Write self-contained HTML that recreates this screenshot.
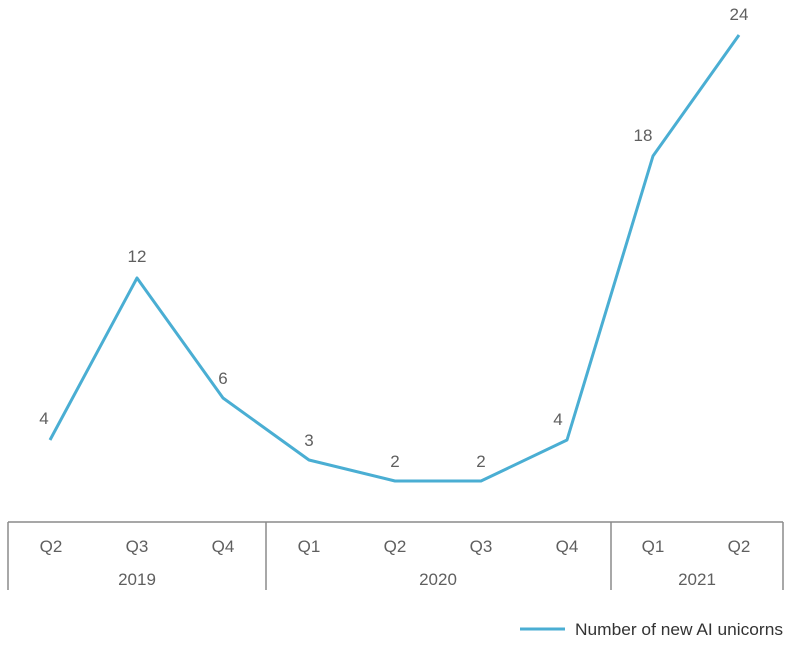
<!DOCTYPE html>
<html><head><meta charset="utf-8"><style>
html,body{margin:0;padding:0;background:#fff;}
svg{display:block;}
text{font-family:"Liberation Sans Narrow","Liberation Sans",sans-serif;fill:#5f5f5f;font-size:17px;}
</style></head><body>
<svg width="796" height="646" viewBox="0 0 796 646">
<polyline points="50,440 137,278 223,398 309,460 395,481 481,481 567,440 653,156 739,35" fill="none" stroke="#4aaed3" stroke-width="3" stroke-linejoin="round"/>
<g text-anchor="middle">
<text x="44" y="424">4</text>
<text x="137" y="262">12</text>
<text x="223" y="384">6</text>
<text x="309" y="446">3</text>
<text x="395" y="467">2</text>
<text x="481" y="467">2</text>
<text x="558" y="425">4</text>
<text x="643" y="141">18</text>
<text x="739" y="20">24</text>
</g>
<g stroke="#8a8a8a" stroke-width="1.5" fill="none">
<line x1="8" y1="522" x2="783" y2="522"/>
<line x1="8" y1="522" x2="8" y2="590"/>
<line x1="266" y1="522" x2="266" y2="590"/>
<line x1="611" y1="522" x2="611" y2="590"/>
<line x1="783" y1="522" x2="783" y2="590"/>
</g>
<g text-anchor="middle">
<text x="51" y="552">Q2</text>
<text x="137" y="552">Q3</text>
<text x="223" y="552">Q4</text>
<text x="309" y="552">Q1</text>
<text x="395" y="552">Q2</text>
<text x="481" y="552">Q3</text>
<text x="567" y="552">Q4</text>
<text x="653" y="552">Q1</text>
<text x="739" y="552">Q2</text>
<text x="137" y="585">2019</text>
<text x="438" y="585">2020</text>
<text x="697" y="585">2021</text>
</g>
<line x1="520" y1="629" x2="565" y2="629" stroke="#4aaed3" stroke-width="3"/>
<text x="575" y="635" textLength="208" lengthAdjust="spacingAndGlyphs" style="fill:#333">Number of new AI unicorns</text>
</svg>
</body></html>
